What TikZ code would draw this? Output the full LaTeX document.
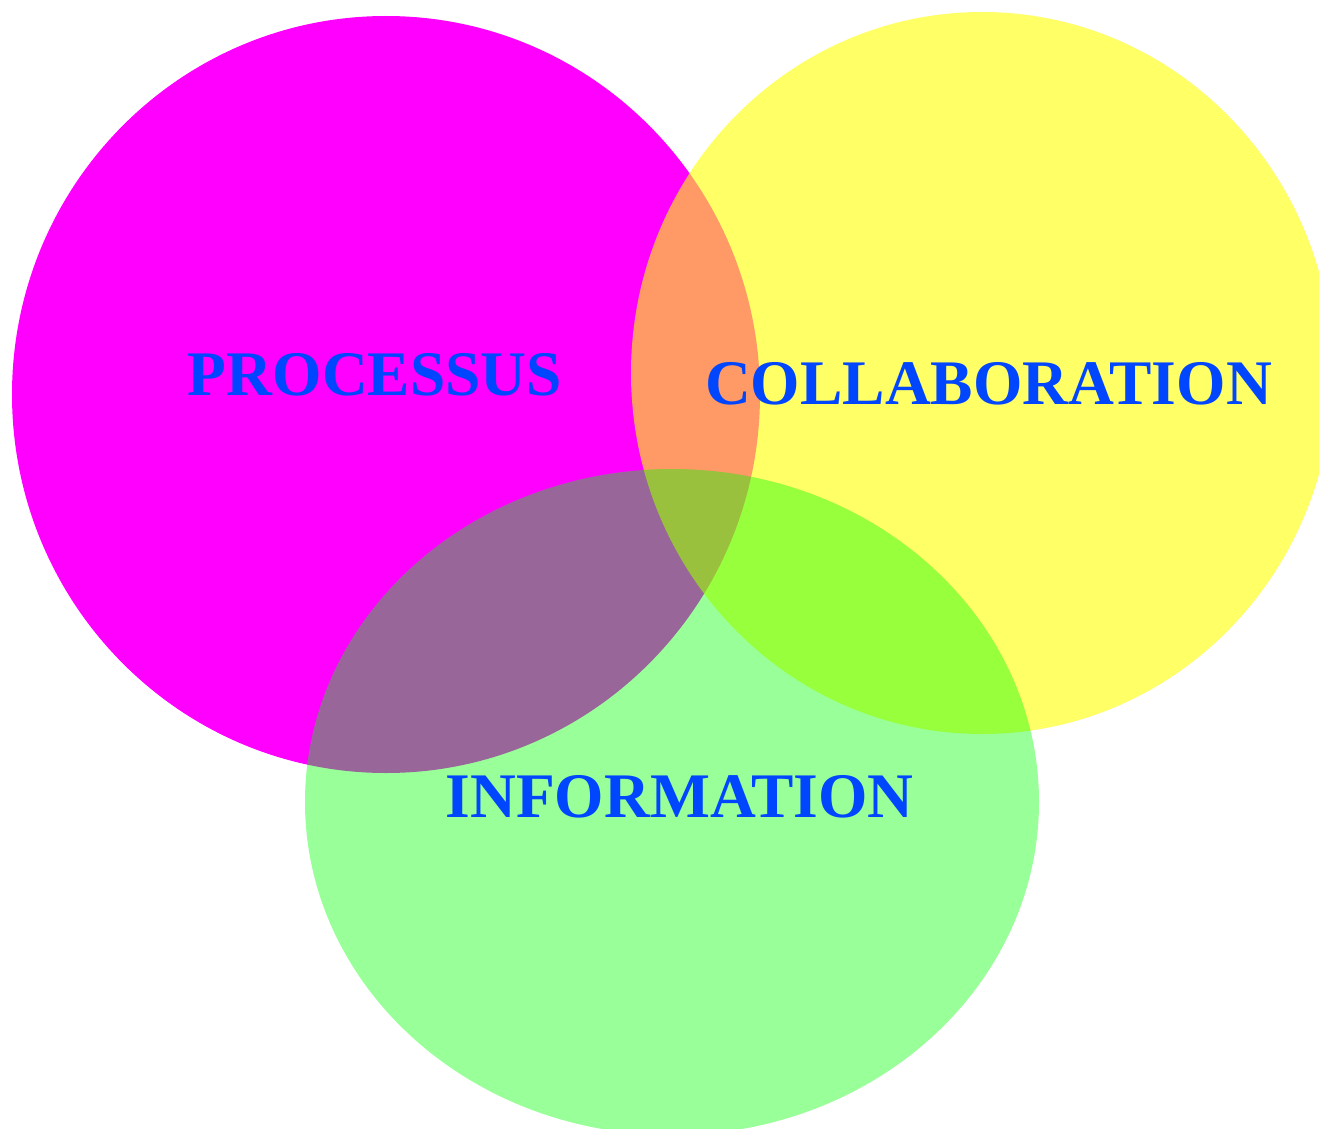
\documentclass[tikz,border=0pt]{standalone}
\usepackage{fontspec}
\setmainfont{Liberation Serif}
\usepackage{xcolor}
\definecolor{venn_magenta}{HTML}{FF00FF}
\definecolor{venn_yellow}{HTML}{FFFF00}
\definecolor{venn_green}{HTML}{00FF00}
\definecolor{label_blue}{HTML}{0046FF}

\begin{document}
\begin{tikzpicture}[
            x=1pt,
            y=-1pt,
            label/.style={
                text=label_blue,
                inner sep=0pt,
                font=\fontsize{63.5}{70}\selectfont\bfseries
            }
        ]
            % Page size
            \useasboundingbox (0,0) rectangle (1319,1129);
        
            % Draw the three sets
            \fill[venn_magenta] (386,394.5) ellipse [x radius=374, y radius=378.5];
            \fill[venn_yellow, opacity=0.6] (982,373) ellipse [x radius=351, y radius=361];
            \fill[venn_green, opacity=0.4] (672,802) ellipse [x radius=367, y radius=333];
        
            % Labels
            \node[label] (processus) at (375,374.5) {PROCESSUS};
            \node[label] (collaboration) at (988.5,383.5) {COLLABORATION};
            \node[label] (information) at (679.5,796.5) {INFORMATION};
        \end{tikzpicture}
\end{document}
